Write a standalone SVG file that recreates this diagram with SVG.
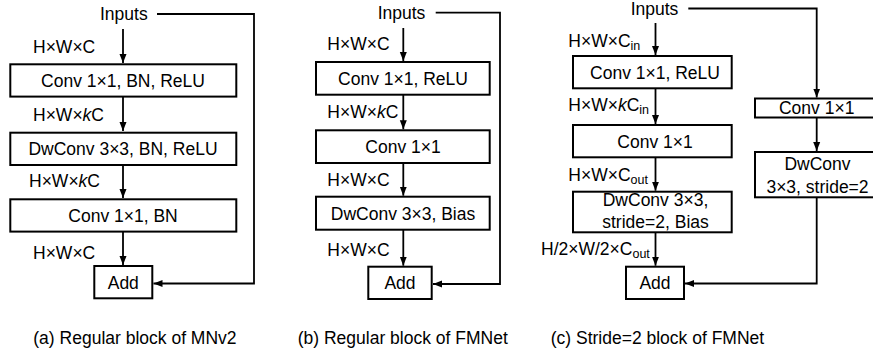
<svg xmlns="http://www.w3.org/2000/svg" width="873" height="356" viewBox="0 0 873 356">
<style>
text{font-family:"Liberation Sans",Arial,sans-serif;font-size:17.5px;fill:#000}
.c{text-anchor:middle}
.box{fill:#fff;stroke:#000;stroke-width:2}
.ln{fill:none;stroke:#000;stroke-width:1.8}
.sub{font-size:12.5px}
</style>
<defs>
<marker id="ah" markerUnits="userSpaceOnUse" markerWidth="10" markerHeight="8" refX="9" refY="4" orient="auto">
<path d="M0,0.5 L9,4 L0,7.5 z" fill="#000"/>
</marker>
</defs>
<rect width="873" height="356" fill="#fff"/>

<g id="connectors">
<!-- (a) -->
<path class="ln" d="M123,29 V63" marker-end="url(#ah)"/>
<path class="ln" d="M123,97 V131" marker-end="url(#ah)"/>
<path class="ln" d="M123,165 V198" marker-end="url(#ah)"/>
<path class="ln" d="M123,232 V265" marker-end="url(#ah)"/>
<path class="ln" d="M157,14 H254 V283.5 H153.5" marker-end="url(#ah)"/>
<!-- (b) -->
<path class="ln" d="M403.3,28 V61" marker-end="url(#ah)"/>
<path class="ln" d="M403.3,95 V129.3" marker-end="url(#ah)"/>
<path class="ln" d="M403.3,163 V195.7" marker-end="url(#ah)"/>
<path class="ln" d="M403.3,230 V265.7" marker-end="url(#ah)"/>
<path class="ln" d="M435.7,12.7 H500 V284 H433" marker-end="url(#ah)"/>
<!-- (c) -->
<path class="ln" d="M655.5,23 V55" marker-end="url(#ah)"/>
<path class="ln" d="M655.5,89 V124" marker-end="url(#ah)"/>
<path class="ln" d="M655.5,158 V190.7" marker-end="url(#ah)"/>
<path class="ln" d="M655.5,233 V265.7" marker-end="url(#ah)"/>
<path class="ln" d="M688.3,8.5 H816.7 V97.5" marker-end="url(#ah)"/>
<path class="ln" d="M816.7,118 V151" marker-end="url(#ah)"/>
<path class="ln" d="M816.7,198 V283.5 H685" marker-end="url(#ah)"/>
</g>

<!-- Panel (a) -->
<g id="a-inputs"><text x="100" y="20">Inputs</text></g>
<g id="a-conv1"><rect class="box" x="10.3" y="64.3" width="226" height="32.3"/><text class="c" x="123" y="86.8">Conv 1×1, BN, ReLU</text></g>
<g id="a-dwconv"><rect class="box" x="10.3" y="132.7" width="226" height="32.3"/><text class="c" x="123" y="155.1">DwConv 3×3, BN, ReLU</text></g>
<g id="a-conv2"><rect class="box" x="10.3" y="199.3" width="226" height="32.3"/><text class="c" x="123" y="221.8">Conv 1×1, BN</text></g>
<g id="a-add"><rect class="box" x="94.3" y="266" width="58" height="32.3"/><text class="c" x="123.3" y="288.5">Add</text></g>
<g id="a-labels">
<text x="33" y="53.3">H×W×C</text>
<text x="33" y="120.7">H×W×<tspan font-style="italic">k</tspan>C</text>
<text x="29" y="187.3">H×W×<tspan font-style="italic">k</tspan>C</text>
<text x="33" y="259">H×W×C</text>
</g>

<!-- Panel (b) -->
<g id="b-inputs"><text x="377.7" y="18.5">Inputs</text></g>
<g id="b-conv1"><rect class="box" x="316" y="62" width="173.7" height="32.7"/><text class="c" x="403" y="84.6">Conv 1×1, ReLU</text></g>
<g id="b-conv2"><rect class="box" x="316" y="130.3" width="173.7" height="32.7"/><text class="c" x="403" y="153">Conv 1×1</text></g>
<g id="b-dwconv"><rect class="box" x="316" y="196.7" width="173.7" height="33"/><text class="c" x="403" y="219.5">DwConv 3×3, Bias</text></g>
<g id="b-add"><rect class="box" x="368.3" y="266.7" width="63.4" height="32.3"/><text class="c" x="400" y="289.2">Add</text></g>
<g id="b-labels">
<text x="327.3" y="50">H×W×C</text>
<text x="327.3" y="118.3">H×W×<tspan font-style="italic">k</tspan>C</text>
<text x="327.3" y="185.7">H×W×C</text>
<text x="327.3" y="256">H×W×C</text>
</g>

<!-- Panel (c) -->
<g id="c-inputs"><text x="630.7" y="15">Inputs</text></g>
<g id="c-conv1"><rect class="box" x="573" y="56" width="158.7" height="32.3"/><text class="c" x="655" y="79">Conv 1×1, ReLU</text></g>
<g id="c-conv2"><rect class="box" x="573" y="125" width="158.7" height="32.3"/><text class="c" x="655" y="147.5">Conv 1×1</text></g>
<g id="c-dwconv"><rect class="box" x="573" y="191.7" width="158.7" height="40.6"/><text class="c" x="655.5" y="206">DwConv 3×3,</text><text class="c" x="655.5" y="228.3">stride=2, Bias</text></g>
<g id="c-add"><rect class="box" x="626" y="266.7" width="58" height="32.3"/><text class="c" x="655" y="289.2">Add</text></g>
<g id="c-sconv"><rect class="box" x="755" y="98.5" width="130" height="19"/><text class="c" x="816.7" y="114.2">Conv 1×1</text></g>
<g id="c-sdwconv"><rect class="box" x="755" y="152" width="130" height="45.3"/><text class="c" x="817.5" y="170">DwConv</text><text class="c" x="817.5" y="192.7">3×3, stride=2</text></g>
<g id="c-labels">
<text x="568.3" y="46.7">H×W×C<tspan class="sub" dy="3">in</tspan></text>
<text x="568.3" y="111">H×W×<tspan font-style="italic">k</tspan>C<tspan class="sub" dy="3">in</tspan></text>
<text x="568.3" y="181">H×W×C<tspan class="sub" dy="3">out</tspan></text>
<text x="541" y="255">H/2×W/2×C<tspan class="sub" dy="3">out</tspan></text>
</g>

<g id="captions">
<text x="33.3" y="344">(a) Regular block of MNv2</text>
<text x="297.7" y="344">(b) Regular block of FMNet</text>
<text x="550.7" y="344">(c) Stride=2 block of FMNet</text>
</g>
</svg>
